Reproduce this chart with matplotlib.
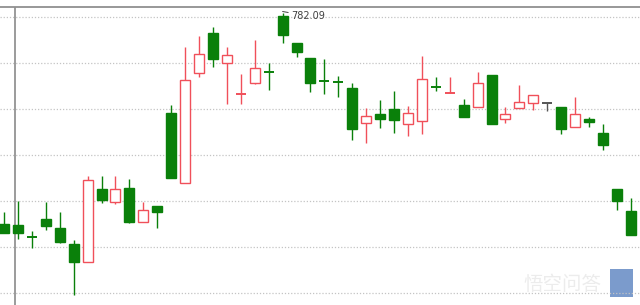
"""
plot.py

Candlestick chart (red hollow = up, green filled = down)
"""

import matplotlib
matplotlib.use('Agg')
import matplotlib.pyplot as plt
import numpy as np

# OHLC data
opens = [760.99, 760.89, 759.70, 761.49, 760.59, 758.99, 757.19, 764.49, 763.19, 764.59,
         761.19, 762.79, 772.09, 765.09, 776.09, 780.09, 777.09, 773.98, 775.09, 776.20,
         781.79, 779.09, 777.59, 775.30, 775.20, 774.59, 771.09, 771.99, 772.49, 770.99,
         771.29, 774.70, 774.08, 772.89, 772.69, 775.89, 771.49, 772.59, 773.09, 773.09,
         772.69, 770.69, 771.49, 770.09, 764.49, 762.29]
highs = [762.19, 763.29, 760.29, 763.19, 762.19, 759.39, 765.79, 765.79, 765.79, 765.49,
         763.19, 762.79, 772.89, 778.69, 779.79, 780.69, 778.69, 775.99, 779.39, 777.09,
         782.09, 779.09, 777.59, 777.49, 775.79, 775.09, 772.59, 773.39, 774.29, 772.79,
         777.79, 775.69, 775.69, 773.49, 776.19, 775.89, 772.69, 774.89, 773.89, 773.09,
         772.69, 773.69, 771.69, 770.99, 764.49, 763.59]
lows = [760.09, 759.49, 758.59, 760.39, 759.09, 753.89, 757.19, 763.09, 762.99, 761.09,
        761.19, 760.59, 765.59, 765.09, 775.69, 776.69, 772.99, 772.99, 774.99, 774.39,
        779.09, 777.69, 774.19, 773.99, 773.69, 769.39, 769.09, 770.59, 770.09, 769.79,
        769.99, 774.29, 774.08, 771.69, 772.69, 770.99, 771.09, 772.59, 772.39, 772.29,
        769.99, 770.69, 770.69, 768.39, 762.39, 759.89]
closes = [760.09, 760.09, 759.69, 760.79, 759.19, 757.19, 765.39, 763.39, 764.49, 761.19,
          762.39, 762.19, 765.59, 775.39, 777.99, 777.49, 777.89, 773.99, 776.59, 776.19,
          779.89, 778.19, 775.09, 775.29, 775.19, 770.49, 771.79, 771.49, 771.39, 772.09,
          775.49, 774.69, 774.09, 771.69, 775.09, 770.99, 771.99, 773.19, 773.89, 773.09,
          770.49, 771.99, 771.19, 768.89, 763.29, 759.89]
maxLabel = '782.09'
gridLevels = [781.69, 777.09, 772.49, 767.89, 763.29, 758.69, 754.09]

upColor = '#f0505a'
downColor = '#0a800a'
flatColor = '#555555'
bodyWidth = 0.72

fig = plt.figure(figsize=(6.4, 3.05), dpi=100)
ax = fig.add_axes([0, 0, 1, 298/305])

x = np.arange(len(opens))
o = np.array(opens); h = np.array(highs); l = np.array(lows); c = np.array(closes)

for i in range(len(x)):
    if c[i] > o[i]:
        col = upColor
    elif c[i] < o[i]:
        col = downColor
    else:
        col = flatColor
    ax.vlines(x[i], l[i], h[i], color=col, lw=1, zorder=2)
    if abs(c[i] - o[i]) < 0.05:  # doji -> just a line
        ax.hlines(c[i], x[i] - bodyWidth/2, x[i] + bodyWidth/2, color=col, lw=1.4, zorder=3)
    else:
        face = 'white' if c[i] > o[i] else col
        ax.bar(x[i], abs(c[i] - o[i]), bottom=min(o[i], c[i]), width=bodyWidth,
               facecolor=face, edgecolor=col, lw=1, zorder=3)

# label for the highest high
iMax = int(np.argmax(h))
ax.annotate(maxLabel, xy=(x[iMax], h[iMax] + 0.15), xytext=(x[iMax] + 0.6, h[iMax] - 0.3),
            fontsize=7, color='#404040', va='center', ha='left',
            arrowprops=dict(arrowstyle='-', color='#404040', lw=0.7, shrinkA=0, shrinkB=0))

# gridlines, borders
ax.set_yticks(gridLevels)
ax.yaxis.grid(True, linestyle=(0, (1, 1.5)), color='#c4c4c4', lw=0.9)
ax.set_axisbelow(True)
ax.tick_params(left=False, bottom=False, labelleft=False, labelbottom=False)
for s in ['left', 'right', 'bottom']:
    ax.spines[s].set_visible(False)
ax.spines['top'].set_color('#909090')
ax.spines['top'].set_linewidth(1.3)
ax.axvline(0.79, color='#808080', lw=1.1, zorder=1)

ax.set_xlim(-0.29, 45.66)
ax.set_ylim(752.89, 782.69)

# watermark
ax.text(0.94, 0.07, '悟空问答', transform=ax.transAxes, ha='right', va='center',
        fontsize=14, color='#ececec', family=['Noto Sans CJK SC', 'DejaVu Sans'], zorder=0)
ax.add_patch(plt.Rectangle((0.953, 0.027), 0.036, 0.094, transform=ax.transAxes,
                           facecolor='#5a82c0', edgecolor='none', alpha=0.8, zorder=0))

fig.savefig('out.png', dpi=100)
